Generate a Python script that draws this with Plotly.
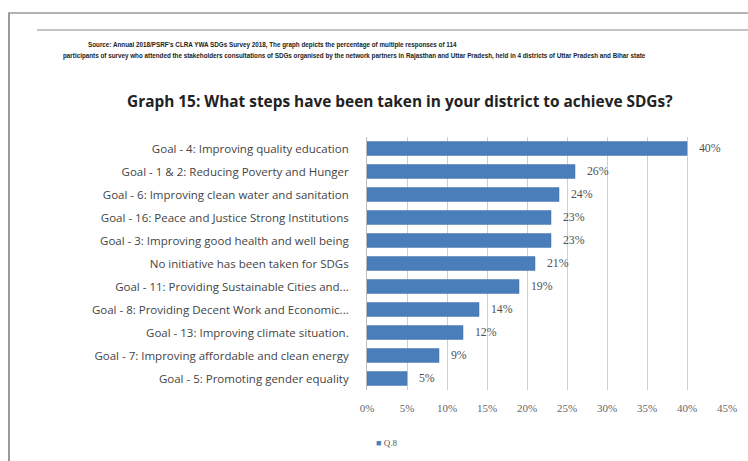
import plotly.graph_objects as go

# Survey responses: steps taken in districts towards the SDGs (share of respondents)
categories = [
    "Goal - 4: Improving quality education",
    "Goal - 1 & 2: Reducing Poverty and Hunger",
    "Goal - 6: Improving clean water and sanitation",
    "Goal - 16: Peace and Justice Strong Institutions",
    "Goal - 3: Improving good health and well being",
    "No initiative has been taken for SDGs",
    "Goal - 11: Providing Sustainable Cities and...",
    "Goal - 8: Providing Decent Work and Economic...",
    "Goal - 13: Improving climate situation.",
    "Goal - 7: Improving affordable and clean energy",
    "Goal - 5: Promoting gender equality",
]
values = [40, 26, 24, 23, 23, 21, 19, 14, 12, 9, 5]
series_name = "Q.8"
tick_vals = [0, 5, 10, 15, 20, 25, 30, 35, 40, 45]
tick_text = [f"{v}%" for v in tick_vals]

title = "Graph 15: What steps have been taken in your district to achieve SDGs?"
source_1 = ("Source: Annual 2018/PSRF's CLRA YWA SDGs Survey 2018, The graph depicts "
            "the percentage of multiple responses of 114")
source_2 = ("participants of survey who attended the stakeholders consultations of SDGs "
            "organised by the network partners in Rajasthan and Uttar Pradesh, "
            "held in 4 districts of Uttar Pradesh and Bihar state")

bar_color = "#4a7ebb"
W, H = 748, 461

fig = go.Figure(
    go.Bar(
        x=values,
        y=categories,
        orientation="h",
        marker=dict(color=bar_color, line=dict(color="#3f6fa8", width=0.5)),
        text=[f"   {v}%" for v in values],
        textposition="outside",
        cliponaxis=False,
        textfont=dict(family="Liberation Serif", size=12, color="#505050"),
        name=series_name,
        showlegend=False,
    )
)

fig.update_layout(
    width=W,
    height=H,
    paper_bgcolor="white",
    plot_bgcolor="white",
    margin=dict(l=367, r=21, t=137, b=71),
    bargap=0.4,
    xaxis=dict(
        range=[0, 45],
        tickvals=tick_vals,
        ticktext=tick_text,
        showgrid=True,
        gridcolor="#cfcfcf",
        gridwidth=1,
        zeroline=False,
        showline=False,
        ticks="",
        ticklabelstandoff=10,
        tickfont=dict(family="Liberation Serif", size=11, color="#666666"),
    ),
    yaxis=dict(
        categoryorder="array",
        categoryarray=categories[::-1],
        autorange=True,
        showline=True,
        linecolor="#bdbdbd",
        ticks="",
        ticklabelstandoff=15,
        tickfont=dict(family="Open Sans", size=11.5, color="#444444"),
    ),
)

# Frame lines around the page
fig.add_shape(type="line", xref="paper", yref="paper",
              x0=(8 - 367) / 360, x1=(748 - 367) / 360,
              y0=1 + (137 - 13) / 253, y1=1 + (137 - 13) / 253,
              line=dict(color="#9a9a9a", width=1.5))
fig.add_shape(type="line", xref="paper", yref="paper",
              x0=(9 - 367) / 360, x1=(9 - 367) / 360,
              y0=1 + (137 - 13) / 253, y1=-(461 - 390) / 253,
              line=dict(color="#9a9a9a", width=2))
fig.add_shape(type="line", xref="paper", yref="paper",
              x0=(37 - 367) / 360, x1=(748 - 367) / 360,
              y0=1 + (137 - 30) / 253, y1=1 + (137 - 30) / 253,
              line=dict(color="#8a8a8a", width=1))

fig.add_annotation(text=f"<b>{source_1}</b>", xref="paper", yref="paper",
                   x=(272 - 367) / 360, y=1 + (137 - 45) / 253, showarrow=False,
                   xanchor="center", yanchor="middle",
                   font=dict(family="Liberation Sans Narrow, Liberation Sans", size=6.3,
                             color="#222222"))
fig.add_annotation(text=f"<b>{source_2}</b>", xref="paper", yref="paper",
                   x=(354 - 367) / 360, y=1 + (137 - 56) / 253, showarrow=False,
                   xanchor="center", yanchor="middle",
                   font=dict(family="Liberation Sans Narrow, Liberation Sans", size=6.3,
                             color="#222222"))
fig.add_annotation(text=f"<b>{title}</b>", xref="paper", yref="paper",
                   x=(400 - 367) / 360, y=1 + (137 - 102) / 253, showarrow=False,
                   xanchor="center", yanchor="middle",
                   font=dict(family="Open Sans", size=15.4, color="#222222"))

# Series key under the axis
fig.add_annotation(text=f"<span style='color:{bar_color}'>■</span> {series_name}",
                   xref="paper", yref="paper",
                   x=(374 - 367) / 360, y=-(443 - 390) / 253, showarrow=False,
                   xanchor="left", yanchor="middle",
                   font=dict(family="Liberation Serif", size=9, color="#555555"))

fig.write_html("out.html")
